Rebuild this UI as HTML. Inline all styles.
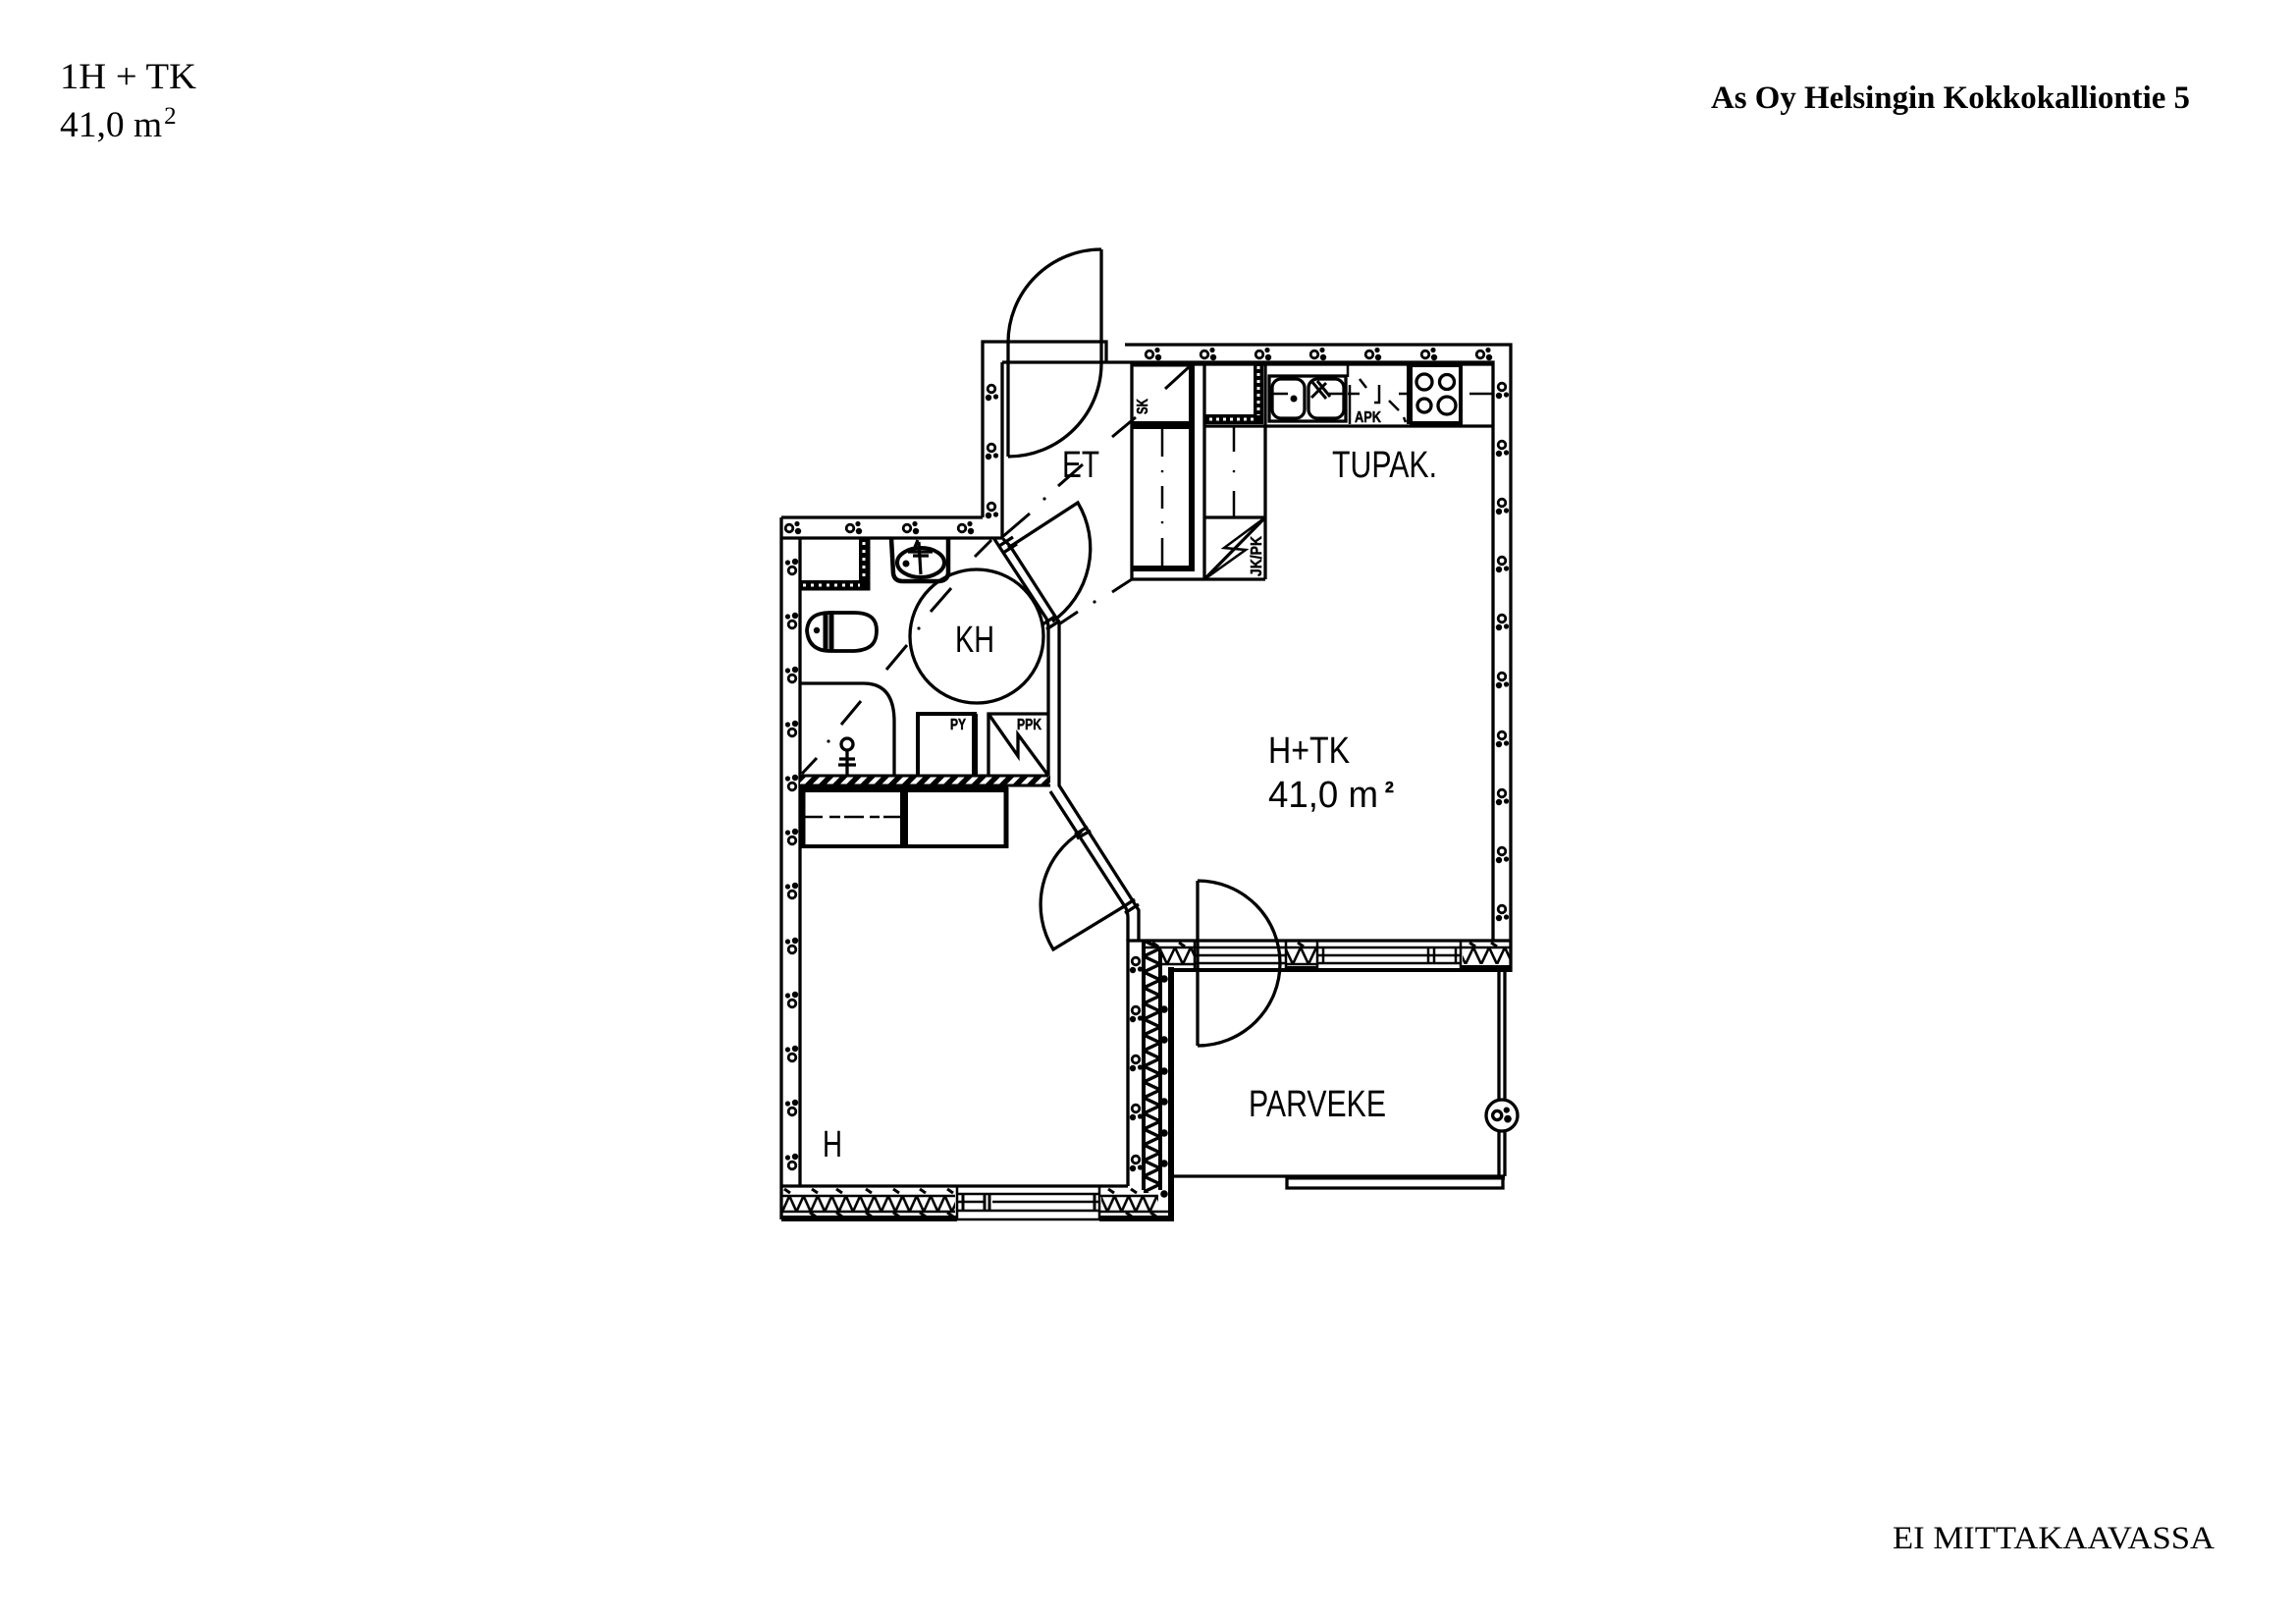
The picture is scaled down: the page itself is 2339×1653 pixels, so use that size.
<!DOCTYPE html>
<html>
<head>
<meta charset="utf-8">
<style>
html,body{margin:0;padding:0;background:#fff;}
svg{display:block;}
.serif{font-family:"Liberation Serif",serif;fill:#000;}
.cad{font-family:"Liberation Sans",sans-serif;fill:#000;font-size:38px;}
.small{font-family:"Liberation Sans",sans-serif;fill:#000;stroke:#000;stroke-width:.5px;font-weight:bold;font-size:16px;}
</style>
</head>
<body>
<svg width="2339" height="1653" viewBox="0 0 2339 1653" xmlns="http://www.w3.org/2000/svg">
<defs>
<g id="m"><circle cx="-4" cy="0" r="3.8" fill="#fff" stroke="#000" stroke-width="2.8"/><circle cx="4" cy="-4.5" r="2.6" fill="#000"/><circle cx="5" cy="3" r="3.2" fill="#000"/></g>
<g id="t"><path d="M-3 -2 L3 2" stroke="#000" stroke-width="3" fill="none"/></g>
<pattern id="zh" patternUnits="userSpaceOnUse" x="797" y="1218" width="14.4" height="16"><path d="M0 16 L7.2 0 L14.4 16" fill="none" stroke="#000" stroke-width="2.6"/></pattern>
<pattern id="zb" patternUnits="userSpaceOnUse" x="1165" y="965" width="16" height="17"><path d="M0 0 L8 17 L16 0" fill="none" stroke="#000" stroke-width="2.6"/></pattern>
<pattern id="zv" patternUnits="userSpaceOnUse" x="1165" y="958" width="17" height="16"><path d="M0 0 L17 8 L0 16" fill="none" stroke="#000" stroke-width="3.4"/></pattern>
<pattern id="hatch" patternUnits="userSpaceOnUse" width="10" height="10" patternTransform="rotate(45)"><rect width="10" height="10" fill="#000"/><rect x="0" width="4.5" height="10" fill="#fff"/></pattern>
</defs>
<rect width="2339" height="1653" fill="#fff"/>

<!-- titles -->
<text class="serif" x="61" y="90" font-size="37.5" textLength="139" lengthAdjust="spacingAndGlyphs">1H + TK</text>
<text class="serif" x="61" y="139" font-size="37.5">41,0 m<tspan dx="2" dy="-13" font-size="25">2</tspan></text>
<text class="serif" x="1743" y="110" font-size="33" font-weight="bold" textLength="488" lengthAdjust="spacingAndGlyphs">As Oy Helsingin Kokkokalliontie 5</text>
<text class="serif" x="1928" y="1577" font-size="33" textLength="328" lengthAdjust="spacingAndGlyphs">EI MITTAKAAVASSA</text>

<g fill="none" stroke="#000" stroke-width="3.3">
<!-- outer walls -->
<path d="M1001 527 V348 H1127 V369"/>
<path d="M796 527 H1001"/>
<path d="M796 548 H1021 V369"/>
<path d="M1021 369 H1127"/>
<path d="M1146 351 H1539 V990"/>
<path d="M1127 369 H1521 V958"/>
<path d="M796 527 V1242"/>
<path d="M815 548 V1208"/>
<path d="M796 1208 H1149"/>
<path d="M1149 1208 V958 H1539"/>

<!-- entrance door -->
<path d="M1122 254 V369"/>
<path d="M1122 254 A95 95 0 0 0 1027 349"/>
<path d="M1027 349 V465"/>
<path d="M1027 465 A95 95 0 0 0 1122 369"/>

<!-- diagonal partition -->
<path d="M1013 549 L1066 630 Q1068 634 1068 640 V790"/>
<path d="M1022 549 L1029 556 L1079 634 V800 L1160 927 V958"/>
<path d="M1070 806 L1147 925 Q1149 929 1149 935 V958"/>
<path d="M1018 556 L1032 547 M1022 563 L1036 554"/>
<path d="M1062 636 L1076 627 M1066 641 L1080 632"/>
<path d="M1095 850 L1108 842 M1097 854 L1111 846"/>
<path d="M1142 925 L1156 916 M1146 930 L1160 921"/>

<!-- bathroom door -->
<path d="M1027 558 L1098 512 A91 91 0 0 1 1072 633"/>
<!-- bedroom door -->
<path d="M1147 922 L1073 967 A87 87 0 0 1 1102 847"/>

<!-- KH circle -->
<circle cx="995" cy="648" r="68"/>

<!-- shower curve -->
<path d="M815 696 H880 Q911 696 911 735 V790"/>

<!-- tap -->
<circle cx="863" cy="758" r="6"/>
<path d="M863 764 V790 M855 773 H871 M854 779 H872"/>

<!-- PY / PPK -->
<path d="M935 790 V727 H993 V790" stroke-width="4"/>
<path d="M993 727 V790" stroke-width="6"/>
<path d="M1007 790 V727 H1068"/>
<path d="M1007 727 L1037 770 V748 L1068 790"/>

<!-- hatched strip -->
<rect x="815" y="790" width="255" height="10" fill="url(#hatch)" stroke="none"/>
<path d="M815 790 H1068 M815 800 H1070" stroke-width="3"/>

<!-- storage below -->
<path d="M816 804 H1027" stroke-width="6"/>
<path d="M818 800 V862" stroke-width="5"/>
<path d="M921 803 V862" stroke-width="8"/>
<path d="M816 862 H1027" stroke-width="4"/>
<path d="M1025 802 V864" stroke-width="5"/>
<path d="M820 832 H838 M845 832 H856 M860 832 H880 M886 832 H896 M900 832 H917" stroke-width="2.5"/>

<!-- WC hatched box -->
<path d="M815 600 H885 V548" stroke-width="3"/>
<path d="M880 548 V596 H815" stroke-width="10"/>
<path d="M880 552 V592 M818 596 H876" stroke="#fff" stroke-width="3" stroke-dasharray="3 5"/>

<!-- sink -->
<path d="M908 548 L910 584 Q911 592 920 592 H955 Q965 592 966 584 V548" stroke-width="4.5"/>
<ellipse cx="938" cy="573" rx="24" ry="15" stroke-width="4"/>
<path d="M936 552 L938 585 M925 562 H950 M935 550 L930 562 M930 566 H946" stroke-width="3.2"/>
<circle cx="923" cy="574" r="3.5" fill="#000" stroke="none"/>

<!-- toilet -->
<path d="M846 624 H870 C890 624 893 634 893 642 C893 652 890 662 870 663 H846 C830 663 823 655 822 642 C823 630 830 624 846 624 Z" stroke-width="3.8"/>
<path d="M841 624 V662 M847 622 V664" stroke-width="5"/>
<circle cx="832" cy="642" r="3.2" fill="#000" stroke="none"/>

<!-- closet 1 -->
<path d="M1153 369 V590 H1289"/>
<path d="M1153 371 H1217" stroke-width="5"/>
<path d="M1214 369 V582" stroke-width="6"/>
<path d="M1153 433 H1214" stroke-width="8"/>
<path d="M1153 579 H1217" stroke-width="6"/>
<path d="M1184 437 V465 M1184 495 V518 M1184 548 V577" stroke-width="2.5"/>
<circle cx="1184" cy="480" r="1.3" fill="#000" stroke="none"/>
<circle cx="1184" cy="532" r="1.3" fill="#000" stroke="none"/>

<!-- closet 2 -->
<path d="M1227 369 V590"/>
<path d="M1289 369 V590"/>
<path d="M1227 527 H1289"/>
<path d="M1227 590 L1289 527"/>
<path d="M1227 590 L1269 560 L1247 558 L1289 527" stroke-width="2.5"/>
<path d="M1257 434 V460 M1257 500 V527" stroke-width="2.5"/>
<circle cx="1257" cy="480" r="1.3" fill="#000" stroke="none"/>
<path d="M1282 369 V427 H1227" stroke-width="10"/>
<path d="M1282 373 V423 M1232 427 H1278" stroke="#fff" stroke-width="3" stroke-dasharray="3 4"/>
<path d="M1227 434 H1521" stroke-width="3.3"/>
<path d="M1153 371 H1521" stroke-width="3.3"/>

<!-- kitchen -->
<rect x="1293" y="383" width="78" height="46" stroke-width="3.3"/>
<rect x="1296" y="386" width="33" height="40" rx="9"/>
<rect x="1333" y="386" width="36" height="40" rx="9"/>
<circle cx="1318" cy="406" r="3.5" fill="#000" stroke="none"/>
<path d="M1336 388 L1351 406 M1351 390 L1336 405 M1342 388 L1355 404" stroke-width="3"/>
<path d="M1296 401 H1312 M1352 401 H1372 M1373 401 H1385 M1425 401 H1436 M1497 401 H1520" stroke-width="2.5"/>
<path d="M1373 372 V384 M1375 392 V432" stroke-width="2.5"/>
<path d="M1385 386 L1392 395 M1415 408 L1425 418 M1405 392 V410 L1400 410 M1432 430 L1430 425" stroke-width="2.5"/>
<path d="M1436 372 V432" stroke-width="6"/>
<path d="M1488 372 V432" stroke-width="4"/>
<path d="M1436 372 H1490 M1436 431 H1490" stroke-width="4"/>
<circle cx="1451" cy="389" r="8"/>
<circle cx="1474" cy="389" r="7.5"/>
<circle cx="1451" cy="413" r="7"/>
<circle cx="1474" cy="413" r="9"/>

<!-- dash-dot diagonals -->
<path d="M817 788 L832 772 M857 738 L877 714 M903 682 L924 657 M948 623 L969 599 M993 567 L1010 550 M1021 547 L1049 523 M1078 495 L1103 473 M1133 445 L1157 425 M1187 396 L1211 374" stroke-width="3"/>
<path d="M1133 603 L1153 590 M1080 635 L1098 623" stroke-width="3"/>

<!-- bedroom east band -->
<rect x="1165" y="958" width="17" height="257" fill="url(#zv)" stroke="none"/>
<path d="M1165 958 V1212" stroke-width="4"/>
<path d="M1182 968 V1212" stroke-width="4"/>
<path d="M1193 985 V1244" stroke-width="6"/>

<!-- bottom wall -->
<rect x="797" y="1218" width="176" height="16" fill="url(#zh)" stroke="none"/>
<rect x="1122" y="1218" width="58" height="16" fill="url(#zh)" stroke="none"/>
<path d="M796 1218 H973 M796 1234 H973 M1120 1218 H1180 M1120 1234 H1194" stroke-width="2.5"/>
<path d="M796 1241 H975 M1120 1241 H1196" stroke-width="6"/>
<path d="M975 1208 V1242 M1120 1208 V1242" stroke-width="2.5"/>
<path d="M975 1216 H1120 M975 1224 H1003 M1011 1224 H1120 M975 1233 H1120 M975 1242 H1120" stroke-width="2.5"/>
<path d="M981 1216 V1233 M1003 1216 V1233 M1008 1216 V1233 M1115 1216 V1233" stroke-width="3"/>

<!-- balcony wall -->
<rect x="1182" y="965" width="35" height="17" fill="url(#zb)" stroke="none"/>
<rect x="1310" y="965" width="32" height="17" fill="url(#zb)" stroke="none"/>
<rect x="1490" y="965" width="49" height="17" fill="url(#zb)" stroke="none"/>
<path d="M1165 965 H1217 M1310 965 H1342 M1488 965 H1539" stroke-width="2.5"/>
<path d="M1182 982 H1217 M1310 982 H1342" stroke-width="2.5"/>
<path d="M1217 958 V990 M1310 958 V990 M1342 958 V990 M1488 958 V990" stroke-width="2.5"/>
<path d="M1217 965 H1310 M1217 973 H1310 M1217 981 H1310" stroke-width="2.5"/>
<path d="M1342 965 H1488 M1342 973 H1488 M1342 981 H1488" stroke-width="2.5"/>
<path d="M1348 965 V981 M1455 965 V981 M1461 965 V981 M1483 965 V981" stroke-width="2.5"/>
<path d="M1488 986 H1539" stroke-width="6"/>
<path d="M1310 986 H1342" stroke-width="4"/>
<path d="M1193 988 H1539" stroke-width="4"/>

<!-- balcony door -->
<path d="M1220 897 V1065"/>
<path d="M1220 897 A84 84 0 0 1 1220 1065"/>

<!-- balcony -->
<path d="M1527 990 V1120 M1533 990 V1120 M1527 1152 V1198 M1533 1152 V1198"/>
<circle cx="1530" cy="1136" r="16" fill="#fff" stroke-width="3.3"/>
<path d="M1193 1198 H1533"/>
<path d="M1310 1199 H1533" stroke-width="5"/>
<path d="M1311 1198 V1210 H1531 V1198"/>
</g>

<!-- small dots -->
<g fill="#000">
<circle cx="844" cy="755" r="1.6"/><circle cx="936" cy="640" r="1.6"/><circle cx="1064" cy="508" r="1.6"/><circle cx="1115" cy="613" r="1.6"/>
</g>

<!-- wall marks -->
<use href="#m" transform="translate(1175 361)"/>
<use href="#m" transform="translate(1231 361)"/>
<use href="#m" transform="translate(1287 361)"/>
<use href="#m" transform="translate(1343 361)"/>
<use href="#m" transform="translate(1399 361)"/>
<use href="#m" transform="translate(1456 361)"/>
<use href="#m" transform="translate(1512 361)"/>
<use href="#m" transform="translate(1530 398) rotate(90)"/>
<use href="#m" transform="translate(1530 457) rotate(90)"/>
<use href="#m" transform="translate(1530 516) rotate(90)"/>
<use href="#m" transform="translate(1530 575) rotate(90)"/>
<use href="#m" transform="translate(1530 634) rotate(90)"/>
<use href="#m" transform="translate(1530 693) rotate(90)"/>
<use href="#m" transform="translate(1530 753) rotate(90)"/>
<use href="#m" transform="translate(1530 812) rotate(90)"/>
<use href="#m" transform="translate(1530 871) rotate(90)"/>
<use href="#m" transform="translate(1530 930) rotate(90)"/>
<use href="#m" transform="translate(1010 400) rotate(90)"/>
<use href="#m" transform="translate(1010 460) rotate(90)"/>
<use href="#m" transform="translate(1010 520) rotate(90)"/>
<use href="#m" transform="translate(808 538)"/>
<use href="#m" transform="translate(870 538)"/>
<use href="#m" transform="translate(928 538)"/>
<use href="#m" transform="translate(984 538)"/>
<use href="#m" transform="translate(807 577) rotate(-90)"/>
<use href="#m" transform="translate(807 632) rotate(-90)"/>
<use href="#m" transform="translate(807 687) rotate(-90)"/>
<use href="#m" transform="translate(807 742) rotate(-90)"/>
<use href="#m" transform="translate(807 797) rotate(-90)"/>
<use href="#m" transform="translate(807 852) rotate(-90)"/>
<use href="#m" transform="translate(807 907) rotate(-90)"/>
<use href="#m" transform="translate(807 963) rotate(-90)"/>
<use href="#m" transform="translate(807 1018) rotate(-90)"/>
<use href="#m" transform="translate(807 1073) rotate(-90)"/>
<use href="#m" transform="translate(807 1128) rotate(-90)"/>
<use href="#m" transform="translate(807 1183) rotate(-90)"/>
<use href="#m" transform="translate(1157 983) rotate(90)"/>
<use href="#m" transform="translate(1157 1033) rotate(90)"/>
<use href="#m" transform="translate(1157 1083) rotate(90)"/>
<use href="#m" transform="translate(1157 1133) rotate(90)"/>
<use href="#m" transform="translate(1157 1185) rotate(90)"/>
<use href="#m" transform="translate(1530 1136) scale(1.2)"/>

<!-- dots along inner band -->
<g fill="#000">
<circle cx="1186" cy="997" r="3.8"/><circle cx="1186" cy="1028" r="3.8"/><circle cx="1186" cy="1059" r="3.8"/><circle cx="1186" cy="1091" r="3.8"/><circle cx="1186" cy="1122" r="3.8"/><circle cx="1186" cy="1154" r="3.8"/><circle cx="1186" cy="1185" r="3.8"/><circle cx="1186" cy="1216" r="3.8"/>
</g>
<use href="#t" transform="translate(802 1213)"/><use href="#t" transform="translate(830 1213)"/><use href="#t" transform="translate(855 1213)"/><use href="#t" transform="translate(885 1213)"/><use href="#t" transform="translate(913 1213)"/><use href="#t" transform="translate(940 1213)"/><use href="#t" transform="translate(968 1213)"/>
<use href="#t" transform="translate(828 1237)"/><use href="#t" transform="translate(855 1237)"/><use href="#t" transform="translate(885 1237)"/><use href="#t" transform="translate(913 1237)"/><use href="#t" transform="translate(940 1237)"/><use href="#t" transform="translate(968 1237)"/>
<use href="#t" transform="translate(1132 1213)"/><use href="#t" transform="translate(1155 1213)"/><use href="#t" transform="translate(1150 1237)"/><use href="#t" transform="translate(1175 1237)"/>
<use href="#t" transform="translate(1177 962)"/><use href="#t" transform="translate(1204 962)"/><use href="#t" transform="translate(1325 962)"/><use href="#t" transform="translate(1500 962)"/><use href="#t" transform="translate(1522 962)"/>

<!-- CAD labels -->
<text class="cad" x="1082" y="486" textLength="38" lengthAdjust="spacingAndGlyphs">ET</text>
<text class="cad" x="1357" y="486" textLength="107" lengthAdjust="spacingAndGlyphs">TUPAK.</text>
<text class="cad" x="973" y="664" textLength="40" lengthAdjust="spacingAndGlyphs">KH</text>
<text class="cad" x="1292" y="777" textLength="83" lengthAdjust="spacingAndGlyphs">H+TK</text>
<text class="cad" x="1292" y="822" textLength="112" lengthAdjust="spacingAndGlyphs">41,0 m</text>
<text class="small" x="1411" y="807" font-size="18">2</text>
<text class="cad" x="838" y="1178" textLength="20" lengthAdjust="spacingAndGlyphs">H</text>
<text class="cad" x="1272" y="1137" textLength="140" lengthAdjust="spacingAndGlyphs">PARVEKE</text>

<text class="small" x="968" y="743" textLength="16" lengthAdjust="spacingAndGlyphs">PY</text>
<text class="small" x="1036" y="743" textLength="25" lengthAdjust="spacingAndGlyphs">PPK</text>
<text class="small" x="1380" y="430" textLength="27" lengthAdjust="spacingAndGlyphs">APK</text>
<text class="small" transform="translate(1169 422) rotate(-90)" textLength="16" lengthAdjust="spacingAndGlyphs">SK</text>
<text class="small" transform="translate(1285 587) rotate(-90)" textLength="41" lengthAdjust="spacingAndGlyphs">JK/PK</text>
</svg>
</body>
</html>
